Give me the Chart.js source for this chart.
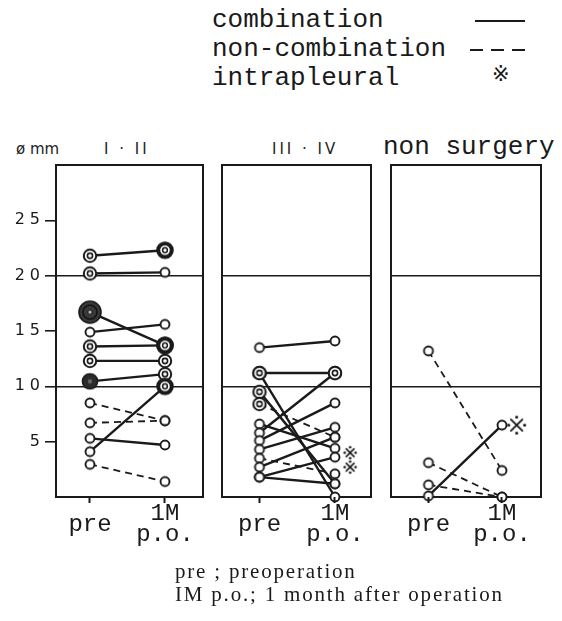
<!DOCTYPE html>
<html>
<head>
<meta charset="utf-8">
<script src="https://cdn.jsdelivr.net/npm/chart.js@4.4.1/dist/chart.umd.min.js"></script>
<style>
  html, body { margin: 0; padding: 0; background: #fff; }
  #page { position: relative; width: 562px; height: 621px; overflow: hidden; color: #1a1a1a; }
  .abs { position: absolute; white-space: nowrap; }
  .mono { font-family: 'Liberation Mono', monospace; }
  .legend { font-size: 26px; line-height: 29px; }
  .sym-solid { position: absolute; left: 475px; top: 20px; width: 50px; border-top: 2px solid #1a1a1a; }
  .sym-dash { position: absolute; left: 470px; top: 49px; width: 56px; height: 2px;
              background: repeating-linear-gradient(90deg, #1a1a1a 0 13px, transparent 13px 21px); }
  .sym-star { position: absolute; left: 492px; top: 62px; font: 21px 'DejaVu Sans', sans-serif; }
  .ptitle { font: 15px 'DejaVu Sans', sans-serif; letter-spacing: 3px; top: 140px; color: #222; }
  .note { font: 21px 'Liberation Serif', serif; letter-spacing: 1.8px; left: 175px; }
  canvas { position: absolute; }
</style>
</head>
<body>
<div id="page">
  <div class="abs mono legend" style="left:212px; top:6px;">combination</div>
  <div class="abs mono legend" style="left:212px; top:35px;">non-combination</div>
  <div class="abs mono legend" style="left:212px; top:64px;">intrapleural</div>
  <div class="sym-solid"></div>
  <div class="sym-dash"></div>
  <div class="sym-star">※</div>

  <div class="abs ptitle" style="left:16px; letter-spacing:0;">ø mm</div>
  <div class="abs ptitle" style="left:104px;">I · II</div>
  <div class="abs ptitle" style="left:272px;">III · IV</div>
  <div class="abs mono" style="left:383px; top:132px; font-size:26px;">non surgery</div>

  <canvas id="c1" width="210" height="420" style="left:0; top:140px;"></canvas>
  <canvas id="c2" width="163" height="420" style="left:215px; top:140px;"></canvas>
  <canvas id="c3" width="178" height="420" style="left:384px; top:140px;"></canvas>

  <div class="abs note" style="top:559px;">pre ; preoperation</div>
  <div class="abs note" style="top:582px;">IM p.o.; 1 month after operation</div>
</div>

<script>
// ── Data ─────────────────────────────────────────────────────
// tumour diameter (mm), pre vs 1 month after; C = combination, N = non-combination
const yTicks  = [5, 10, 15, 20, 25];
const xLabels = ['pre', ['1M', 'p.o.']];

// I · II
const p1Pre      = [21.8, 20.2, 16.7, 14.9, 13.6, 12.3, 10.45, 8.5, 6.7, 5.3, 4.1, 2.95];
const p1Post     = [22.3, 20.3, 13.7, 15.6, 13.7, 12.3, 11.1, 6.9, 6.9, 4.7, 10.0, 1.4];
const p1Group    = ['C', 'C', 'C', 'C', 'C', 'C', 'C', 'N', 'N', 'C', 'C', 'N'];
const p1PreMark  = ['ring', 'ring', 'big', 'o', 'ring', 'ring', 'dark', 'o', 'o', 'o', 'o', 'o'];
const p1PostMark = ['bold', 'o', 'bold', 'o', 'bold', 'ring', 'ring', 'o', 'o', 'o', 'bold', 'o'];
const p1Intra    = [];

// III · IV
const p2Pre      = [13.5, 11.2, 11.2, 9.5, 8.4, 6.6, 5.8, 5.1, 4.3, 3.5, 2.7, 1.8, 1.8];
const p2Post     = [14.1, 11.2, 0.0, 1.2, 5.4, 4.4, 11.2, 8.5, 6.3, 2.1, 5.4, 3.6, 1.2];
const p2Group    = ['C', 'C', 'C', 'C', 'N', 'C', 'C', 'C', 'C', 'N', 'C', 'C', 'C'];
const p2PreMark  = ['o', 'ring', 'ring', 'ring', 'ring', 'o', 'o', 'o', 'o', 'o', 'o', 'o', 'o'];
const p2PostMark = ['o', 'ring', 'o', 'o', 'o', 'o', 'ring', 'o', 'o', 'o', 'o', 'o', 'o'];
const p2Intra    = [4.0, 2.7];

// non surgery
const p3Pre      = [13.2, 3.1, 1.1, 0.1];
const p3Post     = [2.4, 0.0, 0.0, 6.5];
const p3Group    = ['N', 'N', 'N', 'C'];
const p3PreMark  = ['o', 'o', 'o', 'o'];
const p3PostMark = ['o', 'o', 'o', 'o'];
const p3Intra    = [6.5];

// ── Look ─────────────────────────────────────────────────────
const INK = '#1a1a1a';

function circle(g, m, r, fill, stroke, lw) {
  g.beginPath();
  g.arc(m, m, r, 0, Math.PI * 2);
  if (fill) { g.fillStyle = fill; g.fill(); }
  if (stroke) { g.strokeStyle = stroke; g.lineWidth = lw; g.stroke(); }
}

function makeMarker(kind) {
  const c = document.createElement('canvas');
  c.width = c.height = 26;
  const g = c.getContext('2d');
  const m = 13;
  if (kind === 'o') {
    circle(g, m, 4.5, '#fff', INK, 1.9);
  } else if (kind === 'ring') {
    circle(g, m, 6.2, '#fff', INK, 2);
    circle(g, m, 2.6, null, INK, 1.6);
  } else if (kind === 'bold') {
    circle(g, m, 6.8, '#fff', INK, 4);
    circle(g, m, 2.4, null, INK, 1.5);
  } else if (kind === 'dark') {
    circle(g, m, 7.6, '#2a2a2a', INK, 1.5);
    circle(g, m, 2.2, '#666', null, 0);
  } else if (kind === 'big') {
    circle(g, m, 11, '#3a3a3a', INK, 1.6);
    circle(g, m, 7, null, '#111', 1.5);
    circle(g, m, 2.2, '#bbb', '#111', 1);
  }
  return c;
}

// reference mark ※ : a saltire with four dots
function makeStar(size) {
  const c = document.createElement('canvas');
  c.width = c.height = Math.ceil(size + 4);
  const g = c.getContext('2d');
  const m = c.width / 2, h = size * 0.3, d = size * 0.42;
  g.strokeStyle = INK;
  g.lineWidth = Math.max(1.6, size * 0.1);
  g.lineCap = 'round';
  g.beginPath();
  g.moveTo(m - h, m - h); g.lineTo(m + h, m + h);
  g.moveTo(m + h, m - h); g.lineTo(m - h, m + h);
  g.stroke();
  g.fillStyle = INK;
  [[0, -d], [0, d], [-d, 0], [d, 0]].forEach(([dx, dy]) => {
    g.beginPath();
    g.arc(m + dx, m + dy, Math.max(1.3, size * 0.08), 0, Math.PI * 2);
    g.fill();
  });
  return c;
}

const MARK = {};
['o', 'ring', 'bold', 'dark', 'big'].forEach(k => { MARK[k] = makeMarker(k); });

// frame round the plot area, drawn under the marks
const framePlugin = {
  id: 'frame',
  beforeDatasetsDraw(chart) {
    const a = chart.chartArea, ctx = chart.ctx;
    ctx.save();
    ctx.strokeStyle = INK;
    ctx.lineWidth = 2;
    ctx.strokeRect(a.left, a.top, a.right - a.left, a.bottom - a.top);
    ctx.restore();
  }
};

// wide-set y tick digits (x tick labels are drawn later, at z 1)
const spacedDigits = {
  id: 'spacedDigits',
  beforeDraw(chart) { chart.ctx.letterSpacing = '5px'; },
  beforeDatasetsDraw(chart) { chart.ctx.letterSpacing = '0px'; }
};

function buildDatasets(pre, post, group, preMark, postMark, intra, starSize) {
  const sets = pre.map((v, i) => ({
    type: 'line',
    data: [{ x: 0, y: v }, { x: 1, y: post[i] }],
    borderColor: INK,
    borderWidth: group[i] === 'N' ? 1.8 : 2.4,
    borderDash: group[i] === 'N' ? [7, 5] : [],
    pointRadius: 0,
    clip: false,
    order: 3
  }));

  const pts = [], styles = [];
  pre.forEach((v, i) => { pts.push({ x: 0, y: v }); styles.push(MARK[preMark[i]]); });
  post.forEach((v, i) => { pts.push({ x: 1, y: v }); styles.push(MARK[postMark[i]]); });
  sets.push({ type: 'scatter', data: pts, pointStyle: styles, pointRadius: 6, clip: false, order: 2 });

  if (intra.length) {
    sets.push({
      type: 'scatter',
      data: intra.map(y => ({ x: 1.2, y: y })),
      pointStyle: makeStar(starSize), pointRadius: 6, clip: false, order: 1
    });
  }
  return sets;
}

function makePanel(id, sets, opt) {
  return new Chart(document.getElementById(id), {
    data: { datasets: sets },
    options: {
      responsive: false,
      animation: false,
      events: [],
      layout: { padding: { top: 25, right: opt.padRight, left: 0, bottom: 0 } },
      plugins: { legend: { display: false }, tooltip: { enabled: false } },
      scales: {
        x: {
          type: 'linear',
          min: opt.xMin, max: opt.xMax,
          afterBuildTicks: s => { s.ticks = [{ value: 0 }, { value: 1 }]; },
          afterFit: s => { s.height = 63; },
          border: { display: false },
          grid: { drawOnChartArea: false, drawTicks: true, tickLength: 6, tickWidth: 2, tickColor: INK, color: INK, z: 1 },
          ticks: {
            z: 1,
            autoSkip: false, maxRotation: 0, padding: 11,
            crossAlign: 'center',
            color: INK,
            font: { family: 'Liberation Mono', size: 24, lineHeight: 0.85 },
            callback: v => (v === 0 ? xLabels[0] : xLabels[1])
          }
        },
        y: {
          min: 0, max: 30,
          afterBuildTicks: s => { s.ticks = yTicks.map(v => ({ value: v })); },
          afterFit: s => { s.width = opt.showY ? 56 : 7; },
          border: { display: false },
          grid: {
            color: c => (c.tick && (c.tick.value === 10 || c.tick.value === 20)) ? INK : 'rgba(0,0,0,0)',
            lineWidth: 1.6,
            drawTicks: opt.showY, tickLength: 11, tickColor: INK, tickWidth: 1.6
          },
          ticks: {
            display: opt.showY, padding: 0, color: INK,
            font: { family: 'DejaVu Sans', size: 16 },
            callback: v => String(v)
          }
        }
      }
    },
    plugins: opt.showY ? [framePlugin, spacedDigits] : [framePlugin]
  });
}

makePanel('c1', buildDatasets(p1Pre, p1Post, p1Group, p1PreMark, p1PostMark, p1Intra, 13),
  { xMin: -0.4533, xMax: 1.5067, padRight: 7, showY: true });
makePanel('c2', buildDatasets(p2Pre, p2Post, p2Group, p2PreMark, p2PostMark, p2Intra, 13),
  { xMin: -0.4967, xMax: 1.477, padRight: 7, showY: false });
makePanel('c3', buildDatasets(p3Pre, p3Post, p3Group, p3PreMark, p3PostMark, p3Intra, 19),
  { xMin: -0.51, xMax: 1.531, padRight: 21, showY: false });
</script>
</body>
</html>
